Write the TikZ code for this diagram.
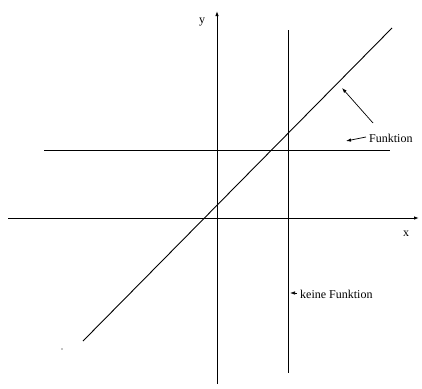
\documentclass[tikz,border=0pt]{standalone}
\usepackage{fontspec}
\setmainfont{Liberation Serif}
\usetikzlibrary{arrows.meta}
\begin{document}
\begin{tikzpicture}[x=1pt,y=-1pt,
  ln/.style={line width=0.9pt,black},
  ax/.style={ln,-{Latex[length=5pt,width=3.5pt]}},
  lbl/.style={font=\fontsize{12}{13}\selectfont,inner sep=0pt},
  pt/.style={-{Latex[length=5pt,width=3.5pt]},line width=0.7pt}]
\useasboundingbox (0,0) rectangle (422,388);
% axes
\coordinate (xs) at (8,218);
\coordinate (xe) at (419,218);
\coordinate (ys) at (217,384);
\coordinate (ye) at (217,11);
\draw[ax] (xs) -- (xe);
\draw[ax] (ys) -- (ye);
\node[lbl] (xl) at (406,234) {x};
\node[lbl] (yl) at (202,22) {y};
% lines
\coordinate (h1) at (44,150);
\coordinate (h2) at (390,150);
\draw[ln] (h1) -- (h2);
\coordinate (v1) at (288,30);
\coordinate (v2) at (288,373);
\draw[ln] (v1) -- (v2);
\coordinate (d1) at (83,341);
\coordinate (d2) at (392,28);
\draw[ln] (d1) -- (d2);
\fill (62,349) circle (0.6pt);
% labels
\node[lbl,anchor=west] (f) at (369,138) {Funktion};
\coordinate (fa) at (346,141);
\draw[pt] (f.west) ++(-3,-1) -- (fa);
\coordinate (ds) at (373,123);
\coordinate (de) at (342,88);
\draw[pt] (ds) -- (de);
\node[lbl,anchor=west] (kf) at (300,294) {keine Funktion};
\coordinate (ka) at (290,293);
\draw[pt] (kf.west) ++(-3,-1) -- (ka);
\end{tikzpicture}
\end{document}
